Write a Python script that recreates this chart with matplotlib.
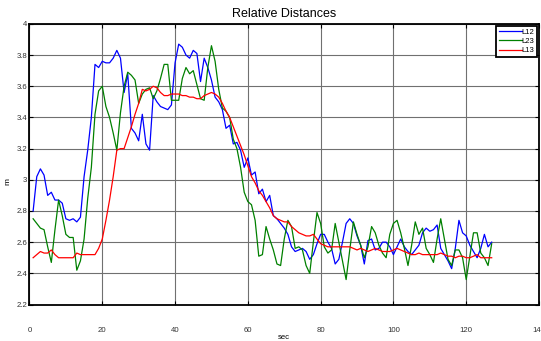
import numpy as np
import matplotlib
matplotlib.use('Agg')
import matplotlib.pyplot as plt
from matplotlib.ticker import FormatStrFormatter

# time axis, seconds
t = np.arange(1, 128)

# distance L12 (blue)
l12 = [2.80, 3.02, 3.07, 3.03, 2.90, 2.92, 2.87, 2.87, 2.85, 2.75,
       2.74, 2.75, 2.73, 2.76, 3.02, 3.19, 3.40, 3.74, 3.72, 3.76,
       3.75, 3.75, 3.78, 3.83, 3.78, 3.56, 3.68, 3.33, 3.30, 3.25,
       3.42, 3.23, 3.19, 3.54, 3.50, 3.47, 3.46, 3.45, 3.48, 3.75,
       3.87, 3.85, 3.80, 3.78, 3.83, 3.81, 3.63, 3.78, 3.72, 3.64,
       3.53, 3.50, 3.45, 3.33, 3.35, 3.23, 3.24, 3.19, 3.08, 3.14,
       3.03, 3.05, 2.91, 2.94, 2.86, 2.90, 2.77, 2.75, 2.72, 2.69,
       2.65, 2.57, 2.54, 2.55, 2.56, 2.54, 2.49, 2.52, 2.59, 2.65,
       2.65, 2.60, 2.56, 2.46, 2.49, 2.60, 2.72, 2.75, 2.72, 2.64,
       2.58, 2.46, 2.61, 2.62, 2.55, 2.56, 2.60, 2.60, 2.57, 2.52,
       2.57, 2.62, 2.57, 2.54, 2.52, 2.55, 2.58, 2.66, 2.69, 2.67,
       2.68, 2.71, 2.56, 2.52, 2.48, 2.43, 2.56, 2.74, 2.66, 2.64,
       2.58, 2.54, 2.50, 2.56, 2.65, 2.57, 2.60]

# distance L23 (green)
l23 = [2.75, 2.72, 2.69, 2.68, 2.57, 2.47, 2.68, 2.87, 2.77, 2.65,
       2.63, 2.63, 2.42, 2.48, 2.62, 2.88, 3.08, 3.42, 3.57, 3.60,
       3.47, 3.40, 3.30, 3.19, 3.43, 3.60, 3.69, 3.67, 3.64, 3.49,
       3.55, 3.58, 3.59, 3.52, 3.57, 3.65, 3.74, 3.74, 3.51, 3.51,
       3.51, 3.65, 3.72, 3.68, 3.70, 3.61, 3.52, 3.51, 3.72, 3.86,
       3.76, 3.58, 3.46, 3.44, 3.40, 3.26, 3.20, 3.08, 2.92, 2.86,
       2.84, 2.74, 2.51, 2.52, 2.70, 2.62, 2.55, 2.46, 2.45, 2.62,
       2.74, 2.70, 2.56, 2.57, 2.55, 2.45, 2.40, 2.60, 2.79, 2.72,
       2.57, 2.53, 2.55, 2.72, 2.60, 2.48, 2.36, 2.55, 2.73, 2.65,
       2.58, 2.50, 2.57, 2.70, 2.66, 2.58, 2.53, 2.50, 2.65, 2.72,
       2.74, 2.66, 2.56, 2.45, 2.58, 2.73, 2.65, 2.69, 2.56, 2.52,
       2.47, 2.62, 2.75, 2.62, 2.49, 2.45, 2.55, 2.55, 2.50, 2.36,
       2.51, 2.66, 2.66, 2.53, 2.50, 2.45, 2.59]

# distance L13 (red)
l13 = [2.50, 2.52, 2.54, 2.53, 2.53, 2.55, 2.52, 2.50, 2.50, 2.50,
       2.50, 2.50, 2.53, 2.52, 2.52, 2.52, 2.52, 2.52, 2.56, 2.62,
       2.74, 2.87, 3.02, 3.19, 3.20, 3.20, 3.27, 3.34, 3.42, 3.49,
       3.58, 3.57, 3.58, 3.60, 3.59, 3.56, 3.54, 3.54, 3.55, 3.55,
       3.55, 3.54, 3.54, 3.53, 3.53, 3.52, 3.52, 3.54, 3.55, 3.56,
       3.55, 3.53, 3.49, 3.44, 3.40, 3.34, 3.28, 3.22, 3.16, 3.09,
       3.02, 2.98, 2.93, 2.90, 2.86, 2.82, 2.77, 2.75, 2.74, 2.73,
       2.73, 2.70, 2.68, 2.66, 2.65, 2.64, 2.64, 2.65, 2.62, 2.59,
       2.58, 2.57, 2.57, 2.57, 2.57, 2.57, 2.57, 2.57, 2.56, 2.55,
       2.56, 2.55, 2.54, 2.55, 2.56, 2.55, 2.54, 2.54, 2.54, 2.55,
       2.56, 2.55, 2.54, 2.53, 2.52, 2.52, 2.53, 2.52, 2.52, 2.52,
       2.52, 2.52, 2.53, 2.52, 2.51, 2.51, 2.50, 2.51, 2.51, 2.50,
       2.50, 2.51, 2.52, 2.50, 2.50, 2.50, 2.50]

x_ticks = [0, 20, 40, 60, 80, 100, 120, 140]
y_ticks = [2.2, 2.4, 2.6, 2.8, 3.0, 3.2, 3.4, 3.6, 3.8, 4.0]

plt.rcParams['font.family'] = ['Liberation Sans', 'DejaVu Sans']

fig = plt.figure(figsize=(5.41, 3.41), dpi=100)
ax = fig.add_axes([0.0545, 0.107, 0.9418, 0.823])

ax.plot(t, l12, color='#0000ff', lw=0.9, label='L12', zorder=3)
ax.plot(t, l23, color='#008000', lw=0.9, label='L23', zorder=3)
ax.plot(t, l13, color='#ff0000', lw=0.9, label='L13', zorder=3)

ax.set_xlim(0, 140)
ax.set_ylim(2.2, 4.0)
ax.set_xticks(x_ticks)
ax.set_yticks(y_ticks)
ax.yaxis.set_major_formatter(FormatStrFormatter('%g'))
ax.grid(True, color='#707070', lw=0.8, ls='-', zorder=1)

ax.tick_params(direction='in', length=3, width=0.8, top=True, right=True,
               labelsize=5.6, colors='black', labelcolor='#333333')
ax.tick_params(axis='x', pad=16)
ax.tick_params(axis='y', pad=1.5)
for s in ax.spines.values():
    s.set_linewidth(1.3)

ax.set_title('Relative Distances', fontsize=9, pad=5)
ax.set_xlabel('sec', fontsize=5.5, labelpad=0)
ax.set_ylabel('m', fontsize=6)
ax.yaxis.set_label_coords(-0.036, 0.44)

leg = ax.legend(loc='upper right', fontsize=5.5, handlelength=3.0,
                handletextpad=0.0, borderpad=0.35, labelspacing=0.25,
                borderaxespad=0.25, fancybox=False, framealpha=1,
                edgecolor='black')
leg.get_frame().set_linewidth(1.3)

fig.savefig('out.png', dpi=100)
